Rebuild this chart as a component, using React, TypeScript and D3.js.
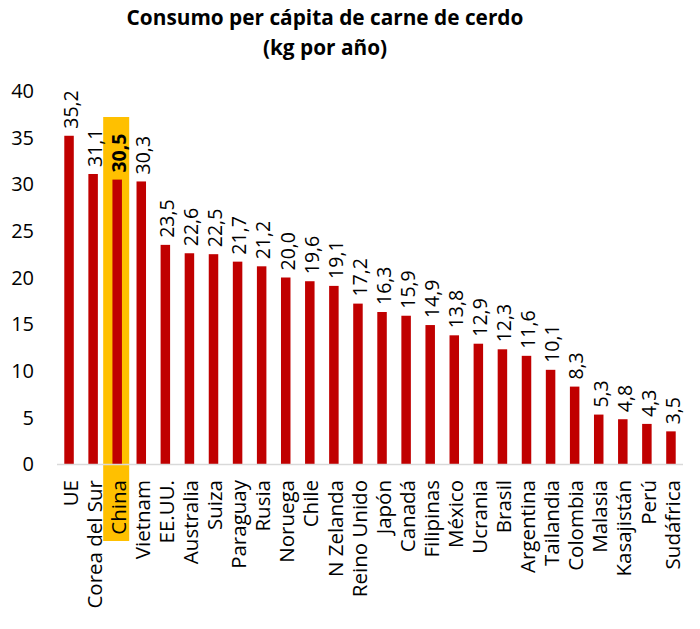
import React from "react";
import * as d3 from "d3";

const categories: string[] = [
  "UE", "Corea del Sur", "China", "Vietnam", "EE.UU.", "Australia", "Suiza",
  "Paraguay", "Rusia", "Noruega", "Chile", "N Zelanda", "Reino Unido", "Japón",
  "Canadá", "Filipinas", "México", "Ucrania", "Brasil", "Argentina", "Tailandia",
  "Colombia", "Malasia", "Kasajistán", "Perú", "Sudáfrica",
];
const values: number[] = [
  35.2, 31.1, 30.5, 30.3, 23.5, 22.6, 22.5, 21.7, 21.2, 20.0, 19.6, 19.1, 17.2,
  16.3, 15.9, 14.9, 13.8, 12.9, 12.3, 11.6, 10.1, 8.3, 5.3, 4.8, 4.3, 3.5,
];
const yTicks: number[] = [0, 5, 10, 15, 20, 25, 30, 35, 40];
const highlightCategory = "China";
const titleLines: string[] = ["Consumo per cápita de carne de cerdo", "(kg por año)"];

const W = 700;
const H = 629;
const FONT = "'Open Sans', 'DejaVu Sans', sans-serif";

export default function App() {
  const x = d3.scaleBand<string>().domain(categories).range([57, 683]).padding(0);
  const y = d3.scaleLinear().domain([0, 40]).range([464, 91]);
  const barW = 9.5;
  const fmt = (v: number) => d3.format(".1f")(v).replace(".", ",");
  const cx = (c: string) => (x(c) as number) + x.bandwidth() / 2;

  const hIdx = categories.indexOf(highlightCategory);
  const hc = cx(highlightCategory);

  return (
    <svg
      width={W}
      height={H}
      style={{ position: "absolute", left: 0, top: 0, background: "#fff" }}
      fontFamily={FONT}
    >
      <rect width={W} height={H} fill="#fff" />
      {/* title */}
      {titleLines.map((t, i) => (
        <text
          key={t}
          x={325}
          y={25 + i * 30}
          textAnchor="middle"
          fontWeight="bold"
          fontSize={20.8}
          fill="#000"
        >
          {t}
        </text>
      ))}

      {/* highlight */}
      {hIdx >= 0 && (
        <rect
          x={hc - 14}
          y={117}
          width={26}
          height={541 - 117}
          fill="#ffc000"
        />
      )}

      {/* bars */}
      {categories.map((c, i) => (
        <rect
          key={c}
          x={cx(c) - barW / 2}
          y={y(values[i])}
          width={barW}
          height={y(0) - y(values[i])}
          fill="#c00000"
        />
      ))}

      {/* axis line */}
      <line x1={57} x2={683} y1={y(0) + 0.5} y2={y(0) + 0.5} stroke="#d9d9d9" strokeWidth={1.5} />

      {/* y tick labels */}
      {yTicks.map((t) => (
        <text
          key={t}
          x={34}
          y={y(t)}
          dy="0.36em"
          textAnchor="end"
          fontSize={20}
          fill="#000"
        >
          {t}
        </text>
      ))}

      {/* value labels */}
      {categories.map((c, i) => {
        const px = cx(c) + 2;
        const py = y(values[i]) - 7;
        return (
          <text
            key={c}
            transform={`translate(${px},${py}) rotate(-90)`}
            dy="0.35em"
            textAnchor="start"
            fontSize={19.5}
            fontWeight={c === highlightCategory ? "bold" : "normal"}
            fill="#000"
          >
            {fmt(values[i])}
          </text>
        );
      })}

      {/* category labels */}
      {categories.map((c) => {
        const px = cx(c) + 1.5;
        const py = 480;
        return (
          <text
            key={c}
            transform={`translate(${px},${py}) rotate(-90)`}
            dy="0.35em"
            textAnchor="end"
            fontSize={20.5}
            fill="#000"
          >
            {c}
          </text>
        );
      })}
    </svg>
  );
}
